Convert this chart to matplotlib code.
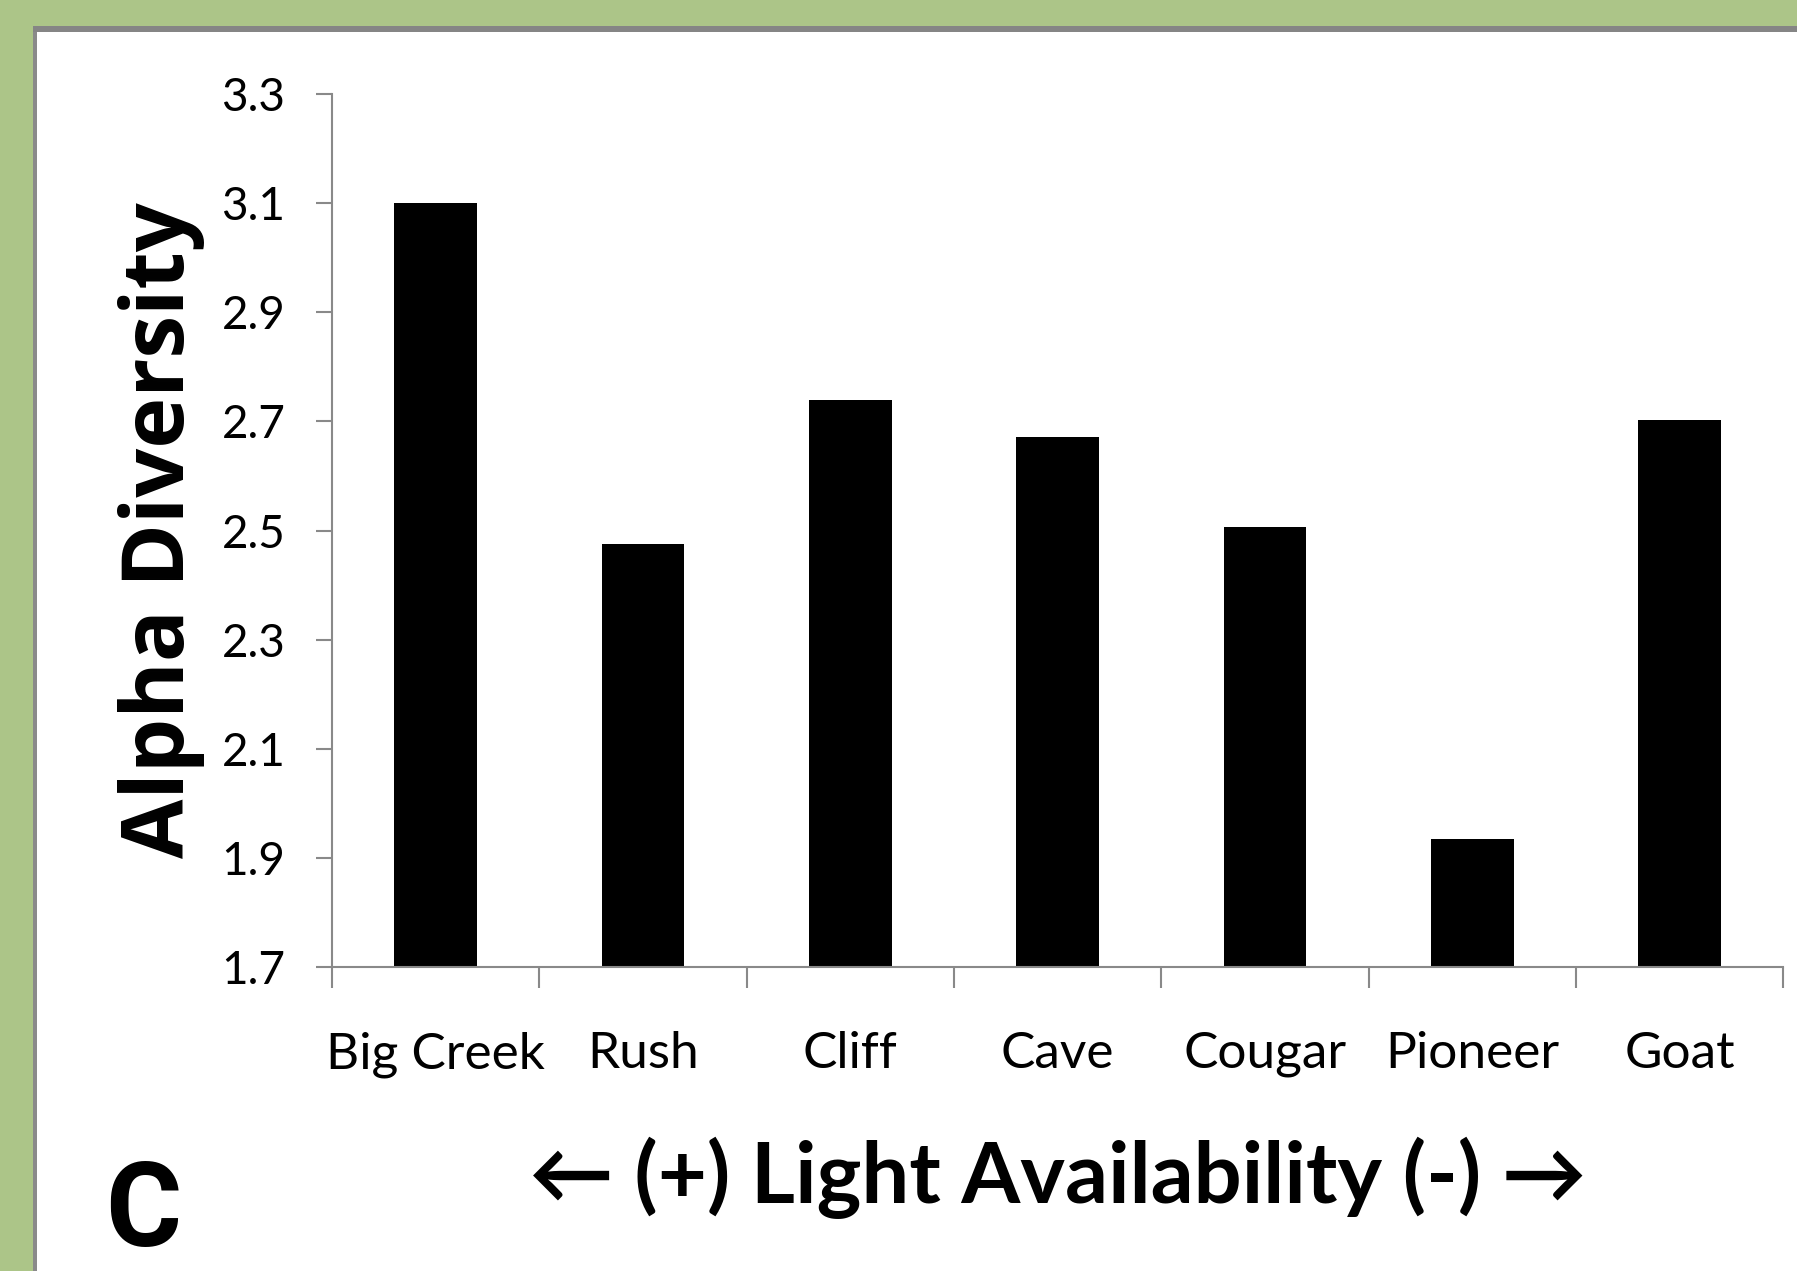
import numpy as np
import matplotlib
matplotlib.use("Agg")
from matplotlib import pyplot as plt
from matplotlib.patches import Rectangle

# alpha diversity per site, ordered from most to least light
sites = ["Big Creek", "Rush", "Cliff", "Cave", "Cougar", "Pioneer", "Goat"]
alpha = [3.10, 2.475, 2.739, 2.672, 2.506, 1.935, 2.702]
yticks = [1.7, 1.9, 2.1, 2.3, 2.5, 2.7, 2.9, 3.1, 3.3]

W, H = 1797, 1271
fig = plt.figure(figsize=(W / 100, H / 100), dpi=100)
fig.patch.set_facecolor("#acc588")

# white panel with a grey frame on the top and left
fig.patches.append(Rectangle((36 / W, 0), 1, 1 - 32 / H, transform=fig.transFigure,
                             facecolor="white", edgecolor="none", zorder=0))
fig.patches.append(Rectangle((33 / W, 0), 4 / W, 1 - 26 / H, transform=fig.transFigure,
                             facecolor="#8a8a8a", edgecolor="none", zorder=1))
fig.patches.append(Rectangle((33 / W, 1 - 32 / H), 1, 6 / H, transform=fig.transFigure,
                             facecolor="#858585", edgecolor="none", zorder=1))

ax = fig.add_axes([332 / W, 1 - 967.3 / H, (1783.3 - 332) / W, (967.3 - 94) / H])
ax.set_facecolor("none")
ax.set_zorder(5)

x = np.arange(len(sites))
ax.bar(x, np.array(alpha) - 1.7, bottom=1.7, width=0.4, color="black", edgecolor="none")

ax.set_xlim(-0.5, len(sites) - 0.5)
ax.set_ylim(1.7, 3.3)

for s in ["top", "right"]:
    ax.spines[s].set_visible(False)
for s in ["left", "bottom"]:
    ax.spines[s].set_color("#898989")
    ax.spines[s].set_linewidth(1.5)

ax.set_yticks(yticks)
ax.set_yticklabels([f"{v:.1f}" for v in yticks], fontfamily="Lato", fontsize=33)
ax.tick_params(axis="y", direction="out", length=11.5, width=1.5, color="#898989", pad=22)

ax.set_xticks(x)
ax.set_xticklabels(sites, fontfamily="Lato", fontsize=37)
ax.tick_params(axis="x", which="major", length=0, pad=46)
ax.set_xticks(np.arange(-0.5, len(sites)), minor=True)
ax.tick_params(axis="x", which="minor", direction="out", length=15, width=1.5, color="#898989")

fig.text(184 / W, 1 - 530 / H, "Alpha Diversity", rotation=90, rotation_mode="anchor",
         ha="center", va="baseline", fontfamily="Open Sans", fontweight="bold", fontsize=62)

fig.text(1058 / W, 1 - 1203 / H, "\u2190 (+) Light Availability (-) \u2192",
         ha="center", va="baseline", family=["Lato", "DejaVu Sans"],
         fontweight="bold", fontsize=61)

fig.text(105 / W, 1 - 1246 / H, "C", ha="left", va="baseline",
         fontfamily="Roboto", fontweight="bold", fontsize=84)

fig.savefig("out.png", dpi=100, facecolor=fig.get_facecolor())
